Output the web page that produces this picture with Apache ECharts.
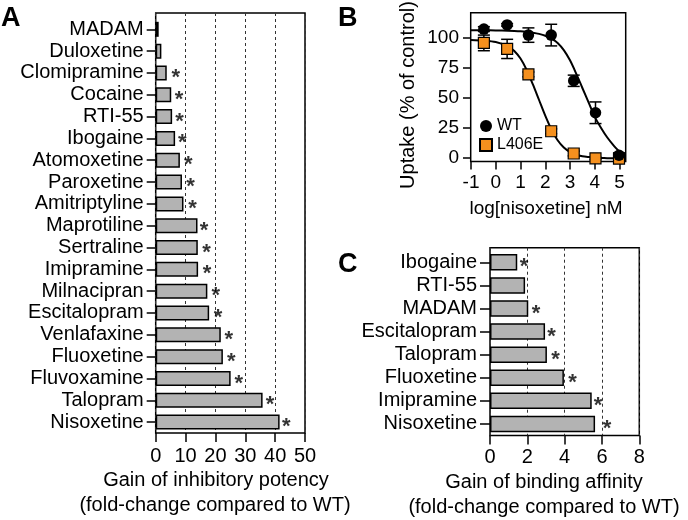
<!DOCTYPE html>
<html><head><meta charset="utf-8">
<script src="https://cdn.jsdelivr.net/npm/echarts@6/dist/echarts.min.js"></script>
<style>html,body{margin:0;padding:0;background:#fff}#c{width:688px;height:520px}</style>
</head><body><div id="c"></div>
<script>
// ---- Panel A data ----
const drugsA = ['MADAM','Duloxetine','Clomipramine','Cocaine','RTI-55','Ibogaine','Atomoxetine','Paroxetine','Amitriptyline','Maprotiline','Sertraline','Imipramine','Milnacipran','Escitalopram','Venlafaxine','Fluoxetine','Fluvoxamine','Talopram','Nisoxetine'];
const gainA = [1.0,1.9,3.7,5.2,5.5,6.5,8.1,8.8,9.3,14.0,14.1,14.2,17.3,17.9,21.8,22.5,25.1,35.8,41.5];
const starA = [null,null,6.7,7.8,8.0,8.9,10.9,11.7,12.3,16.2,17.0,17.2,20.1,20.9,24.5,25.3,27.8,38.3,43.7];
const ticksA = [0,10,20,30,40,50];

// ---- Panel B data ----
const logConc = [-0.48,0.46,1.32,2.24,3.15,4.03,4.98];
const uptakeWT = [107,110.5,102,102,64,37.4,2];
const errWT = [2,1,6,9,4.7,9,2];
const uptakeL406E = [95.5,90.5,69.3,22,3.5,-0.5,-0.7];
const errL406E = [6.5,8,2,2,2,1,1];
const fitX = [-1,-0.5,0,0.5,0.75,1,1.25,1.5,1.75,2,2.25,2.5,2.75,3,3.25,3.5,3.75,4,4.25,4.5,4.75,5];
const fitWT = [106,106,105.9,105.7,105.5,105.2,104.7,104,103,101.5,99,95.5,89.5,81,70,58,46,34,25,17,10.5,5];
const fitL406E = [98,97.5,96.3,92.7,88.8,82.5,73,61,48,35,23.5,14.5,8.5,4.8,2.5,1.2,0.5,0,-0.2,-0.4,-0.5,-0.5];
const ticksBx = [-1,0,1,2,3,4,5];
const ticksBy = [0,25,50,75,100];

// ---- Panel C data ----
const drugsC = ['Ibogaine','RTI-55','MADAM','Escitalopram','Talopram','Fluoxetine','Imipramine','Nisoxetine'];
const gainC = [1.46,1.88,2.05,2.95,3.05,3.96,5.45,5.63];
const starC = [1.82,null,2.46,3.3,3.51,4.42,5.79,6.27];
const ticksC = [0,2,4,6,8];

const FONT = '"Liberation Sans", Arial, Helvetica, sans-serif';
const BLACK = '#000';
const GRAY = '#b3b3b3';
const ORANGE = '#f5901e';

const chart = echarts.init(document.getElementById('c'), null, {renderer:'canvas'});

function frameGrid(l,t,w,h){return {left:l,top:t,width:w,height:h,show:true,borderColor:BLACK,borderWidth:1.5,backgroundColor:'transparent'};}
const tickStyle = {color:BLACK,width:1.5};
const noLine = {show:false, onZero:false};

function errRender(params, api){
  const x = api.value(0), lo = api.value(1), hi = api.value(2);
  const p1 = api.coord([x, hi]), p2 = api.coord([x, lo]);
  const w = 6;
  const style = {stroke:BLACK, lineWidth:1.5, fill:null};
  return {type:'group', children:[
    {type:'line', shape:{x1:p1[0],y1:p1[1],x2:p2[0],y2:p2[1]}, style:style},
    {type:'line', shape:{x1:p1[0]-w,y1:p1[1],x2:p1[0]+w,y2:p1[1]}, style:style},
    {type:'line', shape:{x1:p2[0]-w,y1:p2[1],x2:p2[0]+w,y2:p2[1]}, style:style}
  ]};
}

const starLabel = {show:true, formatter:'*', position:'inside', fontSize:22, fontWeight:'bold', fontFamily:FONT, color:BLACK, offset:[0,5]};
function starData(arr){ const out=[]; arr.forEach((v,i)=>{ if(v!=null) out.push([v,i]); }); return out; }
const lab = (fs, m) => ({interval:0, fontSize:fs, margin:m, color:BLACK, fontFamily:FONT, hideOverlap:false, showMinLabel:true, showMaxLabel:true});

const option = {
  animation:false,
  backgroundColor:'#fff',
  textStyle:{fontFamily:FONT},
  grid:[
    {left:155.7, top:18.4, width:149.3, height:414.6},     // 0 A data
    frameGrid(155.7, 13, 149.3, 420),                       // 1 A frame
    {left:471, top:37.5, width:148.5, height:120.2},        // 2 B data
    frameGrid(470.7, 12.7, 155, 148.8),                     // 3 B frame
    {left:490, top:250.8, width:149.3, height:184.7},       // 4 C data
    frameGrid(490, 247.7, 149.3, 187.8)                     // 5 C frame
  ],
  xAxis:[
    {gridIndex:0, type:'value', min:ticksA[0], max:ticksA[ticksA.length-1], interval:10,
      axisLine:noLine, axisTick:{show:true, interval:0, length:9, lineStyle:tickStyle},
      axisLabel:lab(20,13.5), splitLine:{show:false}},
    {gridIndex:1, type:'value', min:ticksA[0], max:ticksA[ticksA.length-1], interval:10,
      axisLine:noLine, axisTick:{show:false}, axisLabel:{show:false},
      splitLine:{show:true, lineStyle:{color:'#333', width:1, type:[3,3]}}},
    {gridIndex:2, type:'value', min:ticksBx[0], max:ticksBx[ticksBx.length-1], interval:1, offset:3.8,
      axisLine:noLine, axisTick:{show:true, interval:0, length:8, lineStyle:tickStyle},
      axisLabel:lab(19,12), splitLine:{show:false}},
    {gridIndex:3, type:'value', show:false, min:0, max:1, axisLine:noLine},
    {gridIndex:4, type:'value', min:ticksC[0], max:ticksC[ticksC.length-1], interval:2,
      axisLine:noLine, axisTick:{show:true, interval:0, length:9, lineStyle:tickStyle},
      axisLabel:lab(20,11.5), splitLine:{show:false}},
    {gridIndex:5, type:'value', min:ticksC[0], max:ticksC[ticksC.length-1], interval:2,
      axisLine:noLine, axisTick:{show:false}, axisLabel:{show:false},
      splitLine:{show:true, lineStyle:{color:'#333', width:1, type:[3,3]}}}
  ],
  yAxis:[
    {gridIndex:0, type:'category', data:drugsA, inverse:true,
      axisLine:noLine, axisTick:{show:true, alignWithLabel:true, interval:0, length:9, lineStyle:tickStyle},
      axisLabel:lab(20,12)},
    {gridIndex:1, type:'value', show:false, min:0, max:1, axisLine:noLine},
    {gridIndex:2, type:'value', min:ticksBy[0], max:ticksBy[ticksBy.length-1], interval:25,
      axisLine:noLine, axisTick:{show:true, interval:0, length:8, lineStyle:tickStyle},
      axisLabel:lab(19,12), splitLine:{show:false}},
    {gridIndex:3, type:'value', show:false, min:0, max:1, axisLine:noLine},
    {gridIndex:4, type:'category', data:drugsC, inverse:true,
      axisLine:noLine, axisTick:{show:true, alignWithLabel:true, interval:0, length:10, lineStyle:tickStyle},
      axisLabel:lab(20,13)},
    {gridIndex:5, type:'value', show:false, min:0, max:1, axisLine:noLine}
  ],
  legend:{
    orient:'vertical', left:479, top:118, itemWidth:12, itemHeight:12, itemGap:3,
    data:['WT','L406E'], textStyle:{fontSize:16, color:BLACK, fontFamily:FONT}, padding:0
  },
  series:[
    {type:'bar', xAxisIndex:0, yAxisIndex:0, data:gainA, barWidth:15,
      itemStyle:{color:GRAY, borderColor:BLACK, borderWidth:1.5}, silent:true},
    {type:'scatter', xAxisIndex:0, yAxisIndex:0, data:starData(starA), symbolSize:1,
      itemStyle:{color:'rgba(0,0,0,0)'}, label:starLabel, silent:true},
    {type:'line', name:'fitL406E', xAxisIndex:2, yAxisIndex:2, data:fitX.map((x,i)=>[x,fitL406E[i]]),
      showSymbol:false, smooth:0.3, clip:false, lineStyle:{color:BLACK, width:2}, silent:true, z:2},
    {type:'line', name:'fitWT', xAxisIndex:2, yAxisIndex:2, data:fitX.map((x,i)=>[x,fitWT[i]]),
      showSymbol:false, smooth:0.3, clip:false, lineStyle:{color:BLACK, width:2}, silent:true, z:2},
    {type:'custom', xAxisIndex:2, yAxisIndex:2, renderItem:errRender, clip:false, z:3,
      data:logConc.map((x,i)=>[x, uptakeL406E[i]-errL406E[i], uptakeL406E[i]+errL406E[i]]), encode:{x:0,y:[1,2]}},
    {type:'custom', xAxisIndex:2, yAxisIndex:2, renderItem:errRender, clip:false, z:3,
      data:logConc.map((x,i)=>[x, uptakeWT[i]-errWT[i], uptakeWT[i]+errWT[i]]), encode:{x:0,y:[1,2]}},
    {type:'scatter', name:'L406E', xAxisIndex:2, yAxisIndex:2, data:logConc.map((x,i)=>[x,uptakeL406E[i]]),
      symbol:'rect', symbolSize:11, clip:false, z:4,
      itemStyle:{color:ORANGE, borderColor:BLACK, borderWidth:1.2, opacity:1}},
    {type:'scatter', name:'WT', xAxisIndex:2, yAxisIndex:2, data:logConc.map((x,i)=>[x,uptakeWT[i]]),
      symbol:'circle', symbolSize:11.5, clip:false, z:5,
      itemStyle:{color:BLACK, opacity:1}},
    {type:'bar', xAxisIndex:4, yAxisIndex:4, data:gainC, barWidth:16.5,
      itemStyle:{color:GRAY, borderColor:BLACK, borderWidth:1.5}, silent:true},
    {type:'scatter', xAxisIndex:4, yAxisIndex:4, data:starData(starC), symbolSize:1,
      itemStyle:{color:'rgba(0,0,0,0)'}, label:starLabel, silent:true}
  ],
  graphic:[
    {type:'text', left:1, top:5, style:{text:'A', font:'bold 27px '+FONT, fill:BLACK}},
    {type:'text', left:338, top:5, style:{text:'B', font:'bold 27px '+FONT, fill:BLACK}},
    {type:'text', left:338, top:251, style:{text:'C', font:'bold 27px '+FONT, fill:BLACK}},
    {type:'text', x:216, y:480, style:{text:'Gain of inhibitory potency', font:'20px '+FONT, fill:BLACK, align:'center', verticalAlign:'middle'}},
    {type:'text', x:215, y:505, style:{text:'(fold-change compared to WT)', font:'20px '+FONT, fill:BLACK, align:'center', verticalAlign:'middle'}},
    {type:'text', x:544, y:482, style:{text:'Gain of binding affinity', font:'20px '+FONT, fill:BLACK, align:'center', verticalAlign:'middle'}},
    {type:'text', x:544, y:507, style:{text:'(fold-change compared to WT)', font:'20px '+FONT, fill:BLACK, align:'center', verticalAlign:'middle'}},
    {type:'text', x:546, y:209, style:{text:'log[nisoxetine] nM', font:'19px '+FONT, fill:BLACK, align:'center', verticalAlign:'middle'}},
    {type:'text', x:408, y:95, rotation:Math.PI/2, style:{text:'Uptake (% of control)', font:'20px '+FONT, fill:BLACK, align:'center', verticalAlign:'middle'}}
  ]
};
chart.setOption(option);
</script></body></html>
